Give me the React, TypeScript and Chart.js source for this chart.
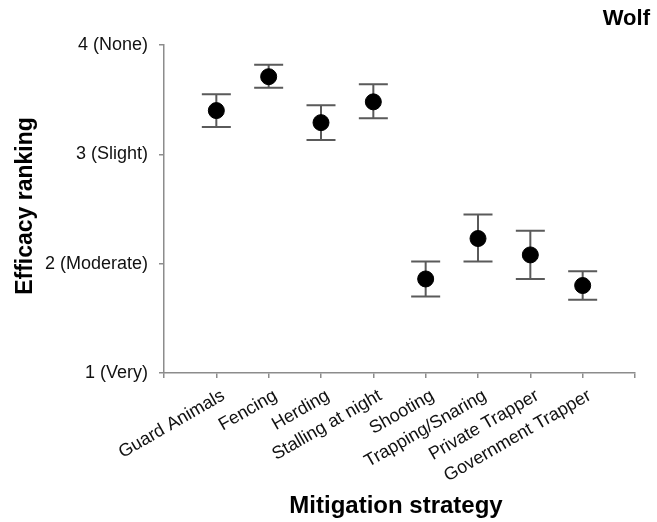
import React, { useEffect, useRef } from "react";
import { Chart, registerables } from "chart.js";

Chart.register(...registerables);

const categories = [
  "Guard Animals",
  "Fencing",
  "Herding",
  "Stalling at night",
  "Shooting",
  "Trapping/Snaring",
  "Private Trapper",
  "Government Trapper",
];
const means = [3.4, 3.71, 3.29, 3.48, 1.86, 2.23, 2.08, 1.8];
const upper = [3.55, 3.82, 3.45, 3.64, 2.02, 2.45, 2.3, 1.93];
const lower = [3.25, 3.61, 3.13, 3.33, 1.7, 2.02, 1.86, 1.67];
const yTickLabels: Record<number, string> = {
  1: "1 (Very)",
  2: "2 (Moderate)",
  3: "3 (Slight)",
  4: "4 (None)",
};
const title = "Wolf";
const xTitle = "Mitigation strategy";
const yTitle = "Efficacy ranking";

const FONT = "'Liberation Sans', Arial, sans-serif";

export default function App() {
  const ref = useRef<HTMLCanvasElement>(null);
  useEffect(() => {
    if (!ref.current) return;
    const errorBars = {
      id: "errorBars",
      beforeDatasetsDraw(chart: any) {
        const { ctx, scales } = chart;
        const xs = scales.x;
        const ys = scales.y;
        ctx.save();
        ctx.strokeStyle = "#5a5a5a";
        ctx.lineWidth = 2;
        const cap = 14.5;
        for (let i = 0; i < means.length; i++) {
          const x = xs.getPixelForValue(i + 1);
          const yt = ys.getPixelForValue(upper[i]);
          const yb = ys.getPixelForValue(lower[i]);
          ctx.beginPath();
          ctx.moveTo(x, yt);
          ctx.lineTo(x, yb);
          ctx.moveTo(x - cap, yt);
          ctx.lineTo(x + cap, yt);
          ctx.moveTo(x - cap, yb);
          ctx.lineTo(x + cap, yb);
          ctx.stroke();
        }
        ctx.restore();
      },
    };
    const titles = {
      id: "titles",
      afterDraw(chart: any) {
        const { ctx, chartArea } = chart;
        ctx.save();
        ctx.fillStyle = "#000";
        ctx.font = `bold 24px ${FONT}`;
        ctx.textAlign = "center";
        ctx.textBaseline = "alphabetic";
        ctx.fillText(xTitle, 396, 513);
        ctx.save();
        ctx.translate(32, (chartArea.top + chartArea.bottom) / 2 - 3);
        ctx.rotate(-Math.PI / 2);
        ctx.font = `bold 23px ${FONT}`;
        ctx.fillText(yTitle, 0, 0);
        ctx.restore();
        ctx.font = `bold 22px ${FONT}`;
        ctx.textAlign = "right";
        ctx.fillText(title, 650, 25);
        ctx.restore();
      },
    };
    const chart = new Chart(ref.current, {
      type: "scatter",
      data: {
        datasets: [
          {
            data: means.map((m, i) => ({ x: i + 1, y: m })),
            pointRadius: 8,
            pointHoverRadius: 8,
            pointBackgroundColor: "#000",
            pointBorderColor: "#000",
            pointBorderWidth: 1,
            showLine: false,
          },
        ],
      },
      options: {
        animation: false,
        responsive: false,
        maintainAspectRatio: false,
        layout: { padding: { top: 45, right: 22, left: 0, bottom: 0 } },
        plugins: {
          legend: { display: false },
          tooltip: { enabled: false },
        },
        scales: {
          x: {
            type: "linear",
            min: 0,
            max: 9,
            afterFit(scale: any) {
              scale.height = 149;
            },
            ticks: {
              stepSize: 1,
              autoSkip: false,
              minRotation: 30,
              maxRotation: 30,
              padding: 7,
              labelOffset: 7,
              color: "#111",
              font: { family: FONT, size: 18 },
              callback: (v: any) => {
                const i = Math.round(Number(v)) - 1;
                return i >= 0 && i < categories.length ? categories[i] : "";
              },
            },
            grid: {
              drawOnChartArea: false,
              drawTicks: true,
              tickLength: 5,
              color: "#8c8c8c",
              lineWidth: 1.5,
            },
            border: { display: true, color: "#8c8c8c", width: 1.5 },
          },
          y: {
            type: "linear",
            min: 1,
            max: 4,
            afterFit(scale: any) {
              scale.width = 164;
            },
            ticks: {
              stepSize: 1,
              padding: 11,
              color: "#111",
              font: { family: FONT, size: 18 },
              callback: (v: any) => yTickLabels[Number(v)] ?? "",
            },
            grid: {
              drawOnChartArea: false,
              drawTicks: true,
              tickLength: 5,
              color: "#8c8c8c",
              lineWidth: 1.5,
            },
            border: { display: true, color: "#8c8c8c", width: 1.5 },
          },
        },
      },
      plugins: [errorBars, titles],
    });
    return () => chart.destroy();
  }, []);
  return (
    <div style={{ position: "fixed", left: 0, top: 0, width: 657, height: 522, background: "#fff" }}>
      <canvas ref={ref} width={657} height={522} style={{ width: 657, height: 522 }} />
    </div>
  );
}
